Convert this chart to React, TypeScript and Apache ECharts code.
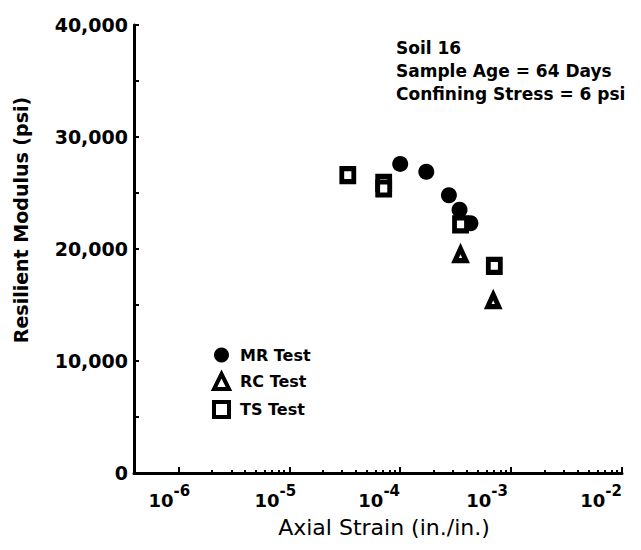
import React, { useEffect, useRef } from "react";
import * as echarts from "echarts";

// ---- data ----
const mrStrain = [1.0e-4, 1.72e-4, 2.75e-4, 3.43e-4, 4.3e-4];
const mrModulus = [27600, 26900, 24800, 23500, 22300];
const rcStrain = [3.5e-4, 6.9e-4];
const rcModulus = [19500, 15400];
const tsStrain = [3.37e-5, 7.1e-5, 7.1e-5, 3.5e-4, 7.06e-4];
const tsModulus = [26600, 25900, 25400, 22200, 18500];
const decadeExponents = [-6, -5, -4, -3, -2];
const minorMultipliers = [2, 3, 4, 5, 6, 7, 8, 9];
const yLabelValues = [0, 10000, 20000, 30000, 40000];
const seriesNames = ["MR Test", "RC Test", "TS Test"];
const annotationLines = ["Soil 16", "Sample Age = 64 Days", "Confining Stress = 6 psi"];
const xTitle = "Axial Strain (in./in.)";
const yTitle = "Resilient Modulus (psi)";

// ---- layout / style ----
const X_MIN = -6.4;
const X_MAX = -2;
const labelShift = [9, 14, 21, 24, 21];
const FONT = "DejaVu Sans";

const minorTickValues: number[] = [];
for (let d = -6; d <= -3; d++) {
  for (const m of minorMultipliers) {
    const v = Math.log10(m * Math.pow(10, d));
    if (v >= X_MIN && v <= X_MAX) minorTickValues.push(v);
  }
}

const toPoints = (xs: number[], ys: number[]) => xs.map((s, i) => [Math.log10(s), ys[i]]);

export default function App() {
  const ref = useRef<HTMLDivElement>(null);
  useEffect(() => {
    if (!ref.current) return;
    const chart = echarts.init(ref.current, null, { renderer: "svg" });
    const rich: Record<string, any> = {
      a: { fontFamily: FONT, fontSize: 18, fontWeight: "bold", color: "#000", lineHeight: 20, verticalAlign: "bottom" },
    };
    decadeExponents.forEach((_, i) => {
      rich["s" + i] = {
        fontFamily: FONT,
        fontSize: 15,
        fontWeight: "bold",
        color: "#000",
        lineHeight: 17,
        verticalAlign: "bottom",
        padding: [0, labelShift[i] * 2, 11, 0],
      };
    });
    const option: any = {
      animation: false,
      backgroundColor: "#fff",
      grid: { left: 134, right: 19, top: 25, bottom: 77, outerBoundsMode: "none" },
      xAxis: [
        {
          type: "value",
          min: X_MIN,
          max: X_MAX,
          splitLine: { show: false },
          axisLine: { show: true, lineStyle: { color: "#000", width: 3 } },
          axisTick: { show: true, inside: true, length: 6, lineStyle: { color: "#000", width: 2 }, customValues: decadeExponents },
          axisLabel: {
            customValues: decadeExponents,
            margin: 16,
            formatter: (v: number) => {
              const e = Math.round(v);
              const idx = decadeExponents.indexOf(e);
              return `{a|10}{s${idx}|${e}}`;
            },
            rich,
          },
          name: xTitle,
          nameLocation: "middle",
          nameGap: 43,
          nameTextStyle: { fontFamily: FONT, fontSize: 22, color: "#000", padding: [0, 0, 0, 12] },
        },
        {
          type: "value",
          min: X_MIN,
          max: X_MAX,
          position: "bottom",
          splitLine: { show: false },
          axisLine: { show: false },
          axisTick: { show: true, inside: true, length: 3, lineStyle: { color: "#000", width: 2 }, customValues: minorTickValues },
          axisLabel: { show: false },
        },
      ],
      yAxis: {
        type: "value",
        min: 0,
        max: 40000,
        interval: 5000,
        splitLine: { show: false },
        axisLine: { show: true, lineStyle: { color: "#000", width: 3 } },
        axisTick: { show: true, inside: true, length: 5, lineStyle: { color: "#000", width: 2 } },
        axisLabel: {
          margin: 6,
          fontFamily: FONT,
          fontSize: 19,
          fontWeight: "bold",
          color: "#000",
          formatter: (v: number) => (yLabelValues.includes(v) ? v.toLocaleString("en-US") : ""),
        },
        name: yTitle,
        nameLocation: "middle",
        nameGap: 104,
        nameTextStyle: { fontFamily: FONT, fontSize: 19, fontWeight: "bold", color: "#000", padding: [0, 0, 0, 58] },
      },
      legend: {
        orient: "vertical",
        left: 207,
        top: 342,
        itemWidth: 15,
        itemHeight: 15,
        itemGap: 9,
        textStyle: { fontFamily: FONT, fontSize: 16, fontWeight: "bold", color: "#000", padding: [0, 0, 0, 6] },
        data: [
          { name: seriesNames[0], itemStyle: { color: "#000", borderWidth: 0 } },
          { name: seriesNames[1], itemStyle: { color: "#fff", borderColor: "#000", borderWidth: 4 } },
          { name: seriesNames[2], itemStyle: { color: "#fff", borderColor: "#000", borderWidth: 4 } },
        ],
      },
      graphic: [
        {
          type: "text",
          left: 396,
          top: 36,
          style: {
            text: annotationLines.join("\n"),
            fontFamily: FONT,
            fontSize: 17,
            fontWeight: "bold",
            lineHeight: 23,
            fill: "#000",
          },
        },
      ],
      series: [
        {
          name: seriesNames[0],
          type: "scatter",
          symbol: "circle",
          symbolSize: 16,
          itemStyle: { color: "#000", opacity: 1 },
          data: toPoints(mrStrain, mrModulus),
        },
        {
          name: seriesNames[1],
          type: "scatter",
          symbol: "triangle",
          symbolSize: [11, 12],
          itemStyle: { color: "#fff", borderColor: "#000", borderWidth: 5, opacity: 1 },
          data: toPoints(rcStrain, rcModulus),
        },
        {
          name: seriesNames[2],
          type: "scatter",
          symbol: "rect",
          symbolSize: [12, 13],
          itemStyle: { color: "#fff", borderColor: "#000", borderWidth: 5, opacity: 1 },
          data: toPoints(tsStrain, tsModulus),
        },
      ],
    };
    chart.setOption(option);
    return () => chart.dispose();
  }, []);
  return (
    <div
      ref={ref}
      style={{ position: "fixed", left: 0, top: 0, width: 641, height: 550, background: "#fff" }}
    />
  );
}
